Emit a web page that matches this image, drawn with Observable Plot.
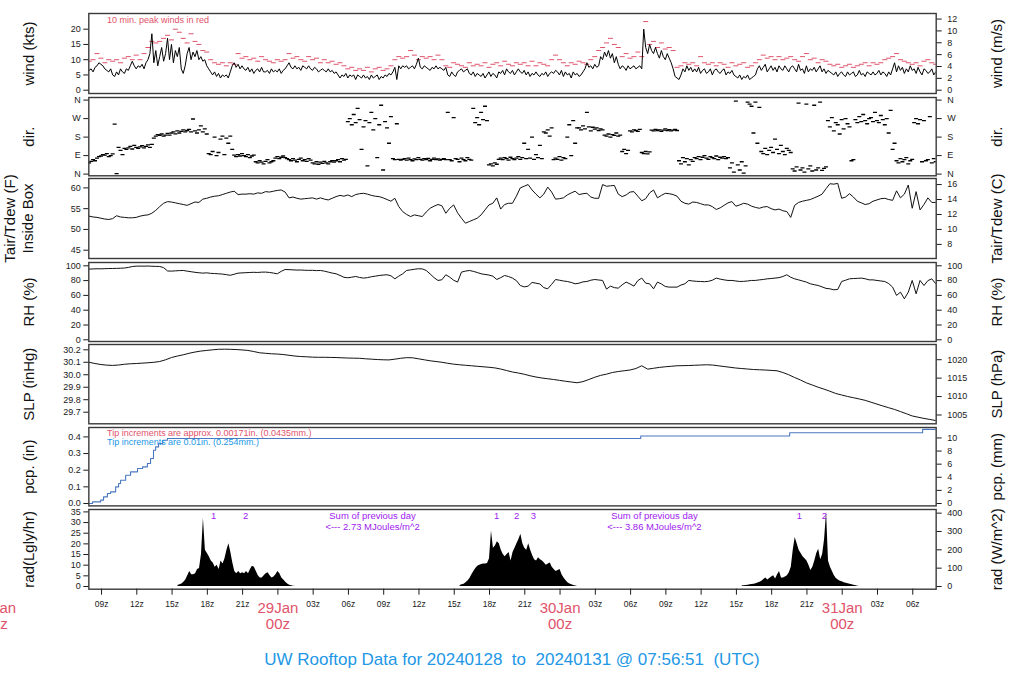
<!DOCTYPE html>
<html><head><meta charset="utf-8">
<script src="https://cdn.jsdelivr.net/npm/d3@7"></script>
<script src="https://cdn.jsdelivr.net/npm/@observablehq/plot@0.6"></script>
<style>
body{margin:0;background:#fff;font-family:"Liberation Sans",Arial,Helvetica,sans-serif;}
#wrap{position:relative;width:1024px;height:700px;overflow:hidden;background:#fff;}
#title{position:absolute;left:0;width:1024px;top:650px;text-align:center;color:#2297E6;font-size:17px;white-space:pre;}
</style></head><body>
<div id="wrap"><div id="title">UW Rooftop Data for 20240128  to  20240131 @ 07:56:51  (UTC)</div></div>
<script>
// ---------------- data (hours counted from 28 Jan 00z) ----------------
const START_HOUR = 7.95; // 28 Jan 07:57 UTC
// wind speed (kts), 10-min samples
const windKts = [
6.5,7,6,7.5,8,9,8.5,8,7,6.5, 6,7,5,4.5,6,5,7,6,5.5,7, 6.5,8,9.5,8,7,8,7.5,8.5,7,9,
10,12,18.5,9,13,8,11,14,9.5,12, 17,10,15,9,13,11,14,7,5.5,8, 12,14,10,12.5,11,13,10,11,9.5,10,
8,7,6,5,6,4.5,5.5,4,5,4.5, 5,4,6,8,9,7.5,8.5,7,8,7, 6.5,7.5,6,7,5.5,6.5,7,6,7.5,6,
6,6.5,5.5,7,6,6.5,6,7,5.5,6.5, 7,8,9,7.5,7,8,7,7.5,6.5,8, 7.5,7,8,7,6.5,7.5,7,6,6.5,7,
6.5,6,7,6,6.5,5.5,6,5,4,5, 4.5,5.5,4,5,4.5,5,3.5,5,4.5,4, 5,4,4.5,3.5,5,4,4.5,5,3.5,4.5,
4,5,4.5,5.5,5,6,7.5,3.5,8,7, 8,7.5,8,7,7.5,8,7,8.5,10.5,7.5, 7,8,7.5,7,6.5,7.5,7,8,7,7.5,
7,6.5,7.5,5,4.5,6,5,4.5,6,6.5, 7,6,6.5,7,5.5,5,6,4.5,5.5,5, 4.5,5.5,4,5,6,4.5,5.5,5,4,6,
5.5,6.5,5,7,6,5.5,6.5,5,6,7, 6,5.5,6.5,5,6,4.5,5.5,5,6,5, 4.5,5.5,5,6,4.5,5.5,6,5.5,6.5,6,
5,6.5,4.5,6,5,5.5,4,6,5,5.5, 4.5,5,6,7,9,7.5,8,7,8.5,7.5, 8,11,10,12.5,11,13,10.5,12,9,11,
8.5,7,8,7.5,6.5,8,7,7.5,8,7, 7.5,8,7,20,14,12,15,13,12,14, 12,10.5,13,11,10,12,10.5,9,7,4.5,
4,3.5,5,7,6,8,6.5,7.5,6,7, 6,7.5,5.5,6.5,7,5.5,6,7,5,6.5, 7,6,5.5,6.5,7,5,6,5.5,6.5,5,
4.5,4,5,3.5,4.5,4,5,3.5,4,4.5, 5,7,8,6.5,7.5,8.5,6,7,8,6.5, 7.5,6,8,7,6.5,8,7,6,7.5,8,
7,6,8.5,6.5,7,5.5,8,6,7,6.5, 7.5,6,7,8,6,7,5.5,6.5,6,5.5, 5,6,4.5,5.5,6,5,4.5,6,5,5.5,
6,4.5,5,6.5,5,5.5,4.5,6,5.5,5, 6,5,5.5,6.5,5,6,5.5,4.5,6,5, 7,9,6,8,6.5,7.5,5.5,7,6,8,
6.5,7,5.5,7.5,6,5,7,6.5,5.5,6,7,5,6];
// 10-min peak wind (kts), one every 20 min
const peakKts = [
9.5,10,12,10.5,9,10,9.5,10,9,10.5, 11,10,11.5,10,12,14,16,15.5,16,17, 18,16.5,20,19,17,15.5,18.5,16,15,13,
12.5,10,9,8.5,9,8,9,8.5,12,10.5, 11,10,10.5,9.5,11,10,9.5,9,10,9.5, 10,12,10.5,11,10,9.5,11,10,10.5,9,
10,9,9.5,8.5,9,8,7,7.5,6.5,7, 6.5,7.5,6,7,7.5,6.5,7,8,10,11, 10.5,11,13,11.5,10,11,10.5,11,10,11.5,
10,8,7.5,9,8.5,8,7.5,9,8,8.5, 8,9,7.5,8.5,9,8,9.5,8.5,8,9, 8.5,9,8,9.5,8,9,8.5,8,10,11.5,
10,9,8,9,8.5,9.5,9,8.5,10,11, 13,14,15.5,17,15,14,11,12,10.5,11, 12.5,11,22.5,15,16,14,15.5,13.5,14,13,
7.5,8,9,8.5,9,8,11,9,8.5,9, 8,9,8.5,7.5,9,8,8.5,9,7.5,8, 9,10,11.5,10.5,11,10,11,10,10.5,11,
10,9.5,11,12,10,10.5,9,10,9.5,8.5, 8,8.5,7.5,8,8.5,7.5,8,8.5,9,8, 9,8.5,9,10,10.5,11,12,10,9.5,9,
8.5,9,8,9.5,10,9,8.5];
// wind direction (deg), 10-min samples
const dirDeg = [
55,62,70,65,78,85, 88,95,92,100,85,90,98, 243,2, 130,115,95,125,120,
128,135,122,140,130,125,132,138,128,135,142,130,145, 175,185,192,188,195,185,190,
198,190,200,205,196,210,200,208,215,205,212, 218,205,268,210,200,215,235,205,220,195,
100,95,110,180,90,105,170,185,95,175,150,185,120, 92,85,95,88,100,90,85,95,80,88,92,
60,55,65,58,50,62,70,55,60,65, 78,85,75,82,88,80,75, 70,65,75,68,60,72,78,65,70,62,75,68,
55,50,60,48,58,52,62,55,50,60,65,58, 65,70,60,75,68,72, 255,270,240,290,250,320,265,120,
230,260,40,250,300,215,270,80,240,335,20,255,225,150,280, 75,70,245,72,68,
72,75,68,78,70,65,74,70,80,72,68,75,70,76,65,72,78,70,74,68,72,75,70,
300,70,65,275,75,72,60,78,70,65,80,72,68, 320,250,275,240,300,265,330,260, 45,50,40,55,48,
72,78,70,80,75,68,82,75,70,78,85,72,80, 150,75,120,78,180,72,95,80,140,75,205, 200,215,185,225,
70,78,72,85,68,80,75, 180,240,90,260,150,225, 225,215,235,220,300,230,210,228, 219,225,212,220,215,
190,185,195,180,192,188,200,185,190, 110,120,100,115, 210,205,215,212,208,218, 105,100,110,98,108,
214,210,218,212,215,208,214,220,212,216,210,214,218,212, 65,50,80,60,75,45,70,62,
80,75,85,70,82,90,78,72,85,80,75,88,70,82,78,85,75,80, 30,55,10,355,45,20,60,5,40,350,
340,330,200,350,150,325, 110,100,125,95,115,130,105,170,120,100,140,110,95,125,115,105,
25,15,35,345,20,30,10,340,25,40,15,335,20,30,350,18,28,35, 260,230,275,210,250,240,195,265,220,270,245,230,
65,70, 265,250,280,255,290,260,245,270,275,255,300,260,250,285,265,240,270, 200,310,120,150,
65,55,75,60,70,80,50,65,72, 250,270,245,265,60,260, 65,70,280,55,75,60];
// inside-box air temperature (F), 20-min samples
const tempF = [
53.2,53.0,52.9,52.7,52.5,52.4,52.6,53.3,53.0,52.9, 52.8,52.8,52.9,53.2,53.4,53.5,53.9,54.6,55.5,56.3,
56.7,56.6,56.4,56.2,56.0,55.8,56.2,56.6,56.5,57.3, 57.5,57.8,58.0,58.1,58.4,58.7,59.0,59.2,58.4,58.5,
58.5,58.6,58.5,58.8,58.7,59.1,59.0,59.2,59.4,59.5, 59.0,57.6,57.8,57.5,57.3,57.4,57.5,57.6,57.3,57.6,
57.3,57.1,57.5,57.9,58.2,58.0,58.3,57.9,58.4,58.6, 58.7,58.5,58.2,58.0,57.9,57.6,57.2,56.8,57.5,55.5,
54.3,53.6,53.1,53.5,53.3,53.1,54.2,55.1,55.6,56.0, 55.7,53.9,55.1,55.9,54.0,52.7,51.5,51.9,52.3,52.7,
53.5,54.7,55.9,56.3,57.6,54.9,56.0,56.3,56.3,
58.0,60.0,60.4,60.8,59.5,58.5,57.6,58.5,60.2,59.0,57.3,
57.4,57.6,58.3,58.8,59.2,58.4,58.6,58.7,57.8,57.5, 57.5,60.8,60.4,60.5,60.6,58.5,57.9,58.3,59.0,59.1,
58.0,56.9,57.4,58.8,59.5,57.6,58.2,58.7,58.6,58.4, 58.0,56.8,56.3,56.1,56.6,56.5,56.2,55.9,55.9,55.5,
54.8,55.2,55.8,56.4,56.7,55.6,55.9,56.3,56.1,55.6, 55.3,55.1,55.4,55.5,55.0,54.7,54.9,54.5,54.3,52.9,
55.8,56.5,56.8,57.0,57.2,57.6,58.0,58.5,59.8,61.0, 60.9,61.1,57.5,57.8,58.6,57.8,56.8,56.4,56.0,56.2,
56.8,57.1,57.4,57.5,57.2,57.0,59.3,57.6,58.5,60.7, 55.1,59.1,54.7,56.0,57.6,56.5,56.5];
// relative humidity (%), 20-min samples
const rhPct = [
95.5,95.8,96,95.9,96.1,96.3,96.4,96.5,96.7,97.0, 97.8,99.0,99.5,99.6,99.5,99.7,99.4,99.2,99.1,97.5,
93.0,92.8,93.2,93.5,93.7,92.8,92.0,91.2,90.6,90.1, 90.5,89.8,89.5,89.2,88.8,88.0,87.2,88.6,90.1,90.4,
90.7,91.0,91.2,91.0,91.4,91.5,91.0,90.2,89.2,92.5, 95.0,94.8,94.5,94.2,94.3,94.0,93.8,93.9,93.5,93.7,
92.8,91.5,90.2,89.2,87.0,84.5,83.8,84.6,85.6,84.2, 83.4,84.0,85.2,86.0,86.9,87.5,87.9,86.5,82.4,86.0,
89.2,93.7,94.5,95.3,96.0,95.8,93.7,89.0,84.0,80.2, 81.1,87.9,84.7,80.5,78.0,91.5,92.8,93.7,92.5,91.0,
89.2,88.3,87.5,86.0,81.5,84.0,86.9,85.5,83.4,
80,73.4,71.5,72.5,77.5,76.5,75.5,70.5,68.9,75,81.5,
80.5,79.5,78.8,77.5,75.7,76.5,78.3,78.8,80.5,81.5, 80.8,80.2,68.5,72.5,70.5,69.8,74.3,78.0,75.5,72.5,
80.0,83.4,76.5,75.7,68.9,78.0,75.5,72.0,71.2,71.2, 71.2,74.0,75.7,80.2,79.5,79.0,78.8,78.5,79.0,80.5,
83.4,82.0,81.0,80.2,80.2,79.5,78.8,79.0,79.5,80.2, 80.2,81.0,81.5,82.4,82.8,83.4,84.0,85.5,87.9,84.5,
82.4,81.0,79.5,78.0,75.7,74.5,73.4,71.5,69.5,68.9, 67.6,68.0,78.8,80.5,82.4,82.8,83.0,83.4,82.5,81.0,
81.0,80.2,79.5,78.8,76.0,71.2,60.0,64.4,55.4,64.4, 80.2,62.2,80.2,73.4,80.0,82.4,75.7];
// sea-level pressure (inHg), 30-min samples
const slpInHg = [
30.100,30.090,30.082,30.077,30.075,30.078,30.084,30.088,30.090,30.093,
30.096,30.100,30.106,30.120,30.138,30.150,30.160,30.172,30.182,30.190,
30.195,30.200,30.204,30.205,30.204,30.202,30.199,30.195,30.186,30.176,
30.172,30.168,30.166,30.162,30.156,30.150,30.146,30.144,30.141,30.140,
30.140,30.139,30.138,30.136,30.134,30.133,30.132,30.128,30.125,30.122,
30.120,30.119,30.125,30.132,30.137,30.136,30.128,30.120,30.112,30.106,
30.100,30.092,30.085,30.080,30.076,30.072,30.068,30.064,30.060,30.055,
30.046,30.034,30.022,30.014,30.004,29.992,29.982,29.974,29.968,29.962,
29.955,29.948,29.942,29.936,29.945,29.962,29.980,29.995,30.005,30.018,
30.026,30.032,30.038,30.050,30.072,30.045,30.052,30.059,30.064,30.068,
30.072,30.073,30.074,30.076,30.078,30.080,30.078,30.072,30.066,30.060,
30.054,30.050,30.046,30.042,30.040,30.038,30.035,30.032,30.018,30.000,
29.978,29.958,29.935,29.918,29.900,29.885,29.868,29.850,29.838,29.826,
29.816,29.806,29.795,29.780,29.765,29.750,29.736,29.722,29.705,29.688,
29.670,29.660,29.650,29.642,29.633];
// accumulated precipitation (in) at tip times (h)
const pcpHours  = [7.95,8.23,8.92,9.17,9.5,9.77,10.2,10.45,10.62,11.05,11.47,12.06,12.49,12.9,13.17,13.42,13.6,13.85,14.2,14.6,54.86,67.53,78.84,79.95];
const pcpInches = [0,0.01,0.02,0.04,0.06,0.07,0.10,0.12,0.14,0.17,0.19,0.21,0.22,0.24,0.27,0.32,0.34,0.36,0.38,0.39,0.405,0.425,0.445,0.445];
// solar radiation (Langley/hr), 10-min samples for each daylight period
const radStartHours = [15.5, 39.5, 63.5];
const radDay1 = [0.5,0.8,1.2,2,3,5,7,5.5,5.5,6, 8,8.5,15,32,17,15.5,14,12,11,9, 10,8,12,10.5,13,17,20,16,11,7,
6,7,6,6.5,6,7,6,8,9.5,9, 7,5,4,4,5,6,6.5,5,4,4.5, 5.5,7,6,4,3,2,1.2,0.6,0.3,0.1,0];
const radDay2 = [0.5,0.8,1,1.8,2.6,3.8,5.5,7,8.5,9.5, 10,10.3,10.5,10.5,10.8,13,26,18,19,21, 20,17,15,14,15,16,12,16,18,20,
22,24.5,20,18,17,20,17,14.5,12.5,12, 13.5,12.5,12,11,10,10.5,11,9,8,7, 7.5,8,5.5,4,2.8,1.8,1.2,0.8,0.5,0.2,0];
const radDay3 = [0.3,0.4,0.5,0.6,0.8,0.9,1.0,1.3,1.6,2, 2.5,3.3,4,3,3.8,4.5,5,3.5,5.5,7, 4,4,4.5,5,6.5,9,17,23,20,17,
15.5,14,13,12,10,7.5,9,12,15.5,17.5, 12.5,15,22,35,12,9,7,5,3.8,3, 2.5,2.2,1.8,1.5,1.3,1,0.8,0.6,0.3,0.1,0];
const radMarkHours  = [18.53, 21.25, 42.6, 44.3, 45.74, 68.36, 70.49];
const radMarkLabels = ["1","2","1","2","3","1","2"];
const radSumHours = [32.05, 56.03];
const radSumMJ    = ["2.73", "3.86"];
// axis ticks
const xTickHours = [9,12,15,18,21,24,27,30,33,36,39,42,45,48,51,54,57,60,63,66,69,72,75,78];
const dayHours  = [0, 24, 48, 72];
const dayLabels = ["28Jan", "29Jan", "30Jan", "31Jan"];
const windTicks = [0,5,10,15,20], windMsTicks = [0,2,4,6,8,10,12];
const dirTicks = [0,90,180,270,360], dirNames = ["N","E","S","W","N"];
const tempTicks = [45,50,55,60], tempCTicks = [8,10,12,14,16];
const rhTicks = [0,20,40,60,80,100];
const slpTicks = [29.7,29.8,29.9,30.0,30.1,30.2], slpHpaTicks = [1005,1010,1015,1020];
const pcpTicks = [0,0.1,0.2,0.3,0.4], pcpMmTicks = [0,2,4,6,8,10];
const radTicks = [0,5,10,15,20,25,30,35], radWTicks = [0,100,200,300,400];

// ---------------- build tables ----------------
const series = (arr, step) => arr.map((v, i) => ({h: START_HOUR + i * step, v}));
const wind = series(windKts, 1/6), peak = series(peakKts, 1/3), dir = series(dirDeg, 1/6);
const temp = series(tempF, 1/3), rh = series(rhPct, 1/3), slp = series(slpInHg, 1/2);
const pcp = pcpHours.map((h, i) => ({h, v: pcpInches[i]}));
const rad = [radDay1, radDay2, radDay3].flatMap((arr, d) => arr.map((v, i) => ({h: radStartHours[d] + i/6, v, day: d})));

// ---------------- layout ----------------
const W = 1024, ML = 88.3, MR = 1024 - 935.7, PAD = 4;
const FONT = '"Liberation Sans", Arial, Helvetica, sans-serif';
const RED = "#DF536B", BLUE = "#2297E6", PURPLE = "#A020F0";
const dash = w => ({draw(ctx) { ctx.moveTo(-w / 2, 0); ctx.lineTo(w / 2, 0); }});
const wrap = document.getElementById("wrap");

function panel(p) {
  const top = p.frame[0] - PAD;
  const mb = p.xaxis ? 60 : PAD;
  const height = p.frame[1] - top + mb;
  const marks = [
    ...p.marks,
    Plot.frame({stroke: "#3a3a3a", strokeWidth: 1.4}),
    Plot.axisY({anchor: "left", ticks: p.lt, tickFormat: p.lf, tickSize: 5, tickPadding: 3, fontSize: 9, label: null}),
    Plot.axisY({anchor: "right", ticks: p.rt, tickFormat: p.rf, tickSize: 5, tickPadding: 6, fontSize: 9, label: null}),
    Plot.text([p.ll], {text: d => d, frameAnchor: "left", dx: (p.llx ?? 28) - ML, rotate: -90, textAnchor: "middle", lineAnchor: "middle", fontSize: 15, lineHeight: 1.2, fill: "#111"}),
    Plot.text([p.rl], {text: d => d, frameAnchor: "right", dx: 997 - (W - MR), rotate: -90, textAnchor: "middle", lineAnchor: "middle", fontSize: 15, fill: "#111"})
  ];
  if (p.xaxis) {
    marks.push(
      Plot.axisX({anchor: "bottom", ticks: xTickHours, tickSize: 6, tickPadding: 6, fontSize: 8.5, label: null,
        tickFormat: h => h % 24 === 0 ? "" : String(h % 24).padStart(2, "0") + "z"}),
      Plot.text(dayHours, {x: d => d, text: (d, i) => dayLabels[i] + "\n00z", frameAnchor: "bottom", dy: 12,
        textAnchor: "middle", lineAnchor: "top", fill: RED, fontSize: 15, lineHeight: 1.1})
    );
  }
  const svg = Plot.plot({
    width: W, height, marginLeft: ML, marginRight: MR, marginTop: PAD, marginBottom: mb,
    x: {domain: [9, 78], range: [101, 912.3], axis: null},
    y: {domain: p.vals, range: p.px.map(v => v - top), axis: null},
    marks
  });
  Object.assign(svg.style, {position: "absolute", left: "0px", top: top + "px", background: "transparent",
    overflow: "visible", maxWidth: "none", fontFamily: FONT, color: "#1a1a1a"});
  wrap.appendChild(svg);
}

// wind
panel({frame: [13.3, 93.3], vals: [0, 20], px: [90, 29],
  lt: windTicks, lf: d => String(d), rt: windMsTicks.map(v => v * 1.943844), rf: d => String(Math.round(d / 1.943844)),
  ll: "wind (kts)", rl: "wind (m/s)",
  marks: [
    Plot.dot(peak, {x: "h", y: "v", symbol: dash(5), fill: "none", stroke: RED, strokeWidth: 1, clip: true}),
    Plot.line(wind, {x: "h", y: "v", stroke: "#000", strokeWidth: 1, clip: true}),
    Plot.text(["10 min. peak winds in red"], {text: d => d, frameAnchor: "top-left", dx: 18.2, dy: 6.7, lineAnchor: "middle", textAnchor: "start", fill: RED, fontSize: 9})
  ]});
// direction
panel({frame: [96.7, 175], vals: [0, 360], px: [173.3, 99.3],
  lt: dirTicks, lf: (d, i) => dirNames[i], rt: dirTicks, rf: (d, i) => dirNames[i],
  ll: "dir.", rl: "dir.",
  marks: [Plot.dot(dir, {x: "h", y: "v", symbol: dash(4), fill: "none", stroke: "#000", strokeWidth: 1.3, clip: true})]});
// temperature
panel({frame: [178.3, 258.3], vals: [45, 60], px: [250, 187.7],
  lt: tempTicks, lf: d => String(d), rt: tempCTicks.map(c => c * 1.8 + 32), rf: d => String(Math.round((d - 32) / 1.8)),
  ll: "Tair/Tdew (F)\nInside Box", llx: 17.6, rl: "Tair/Tdew (C)",
  marks: [Plot.line(temp, {x: "h", y: "v", stroke: "#111", strokeWidth: 1, clip: true})]});
// RH
panel({frame: [261.7, 340.7], vals: [0, 100], px: [339, 265],
  lt: rhTicks, lf: d => String(d), rt: rhTicks, rf: d => String(d),
  ll: "RH (%)", rl: "RH (%)",
  marks: [Plot.line(rh, {x: "h", y: "v", stroke: "#111", strokeWidth: 1, clip: true})]});
// SLP
panel({frame: [344, 423.3], vals: [29.7, 30.2], px: [411.7, 349.3],
  lt: slpTicks, lf: d3.format(".1f"), rt: slpHpaTicks.map(v => v * 0.0295300), rf: d => String(Math.round(d / 0.0295300)),
  ll: "SLP (inHg)", rl: "SLP (hPa)",
  marks: [Plot.line(slp, {x: "h", y: "v", stroke: "#111", strokeWidth: 1, clip: true})]});
// precipitation
panel({frame: [427.3, 505.7], vals: [0, 0.4], px: [503.3, 436.7],
  lt: pcpTicks, lf: d3.format(".1f"), rt: pcpMmTicks.map(v => v / 25.4), rf: d => String(Math.round(d * 25.4)),
  ll: "pcp. (in)", rl: "pcp. (mm)",
  marks: [
    Plot.line(pcp, {x: "h", y: "v", curve: "step-after", stroke: "#4a78c0", strokeWidth: 1.1, clip: true}),
    Plot.text(["Tip increments are approx. 0.00171in. (0.0435mm.)"], {text: d => d, frameAnchor: "top-left", dx: 18.2, dy: 5.5, lineAnchor: "middle", textAnchor: "start", fill: RED, fontSize: 9}),
    Plot.text(["Tip increments are 0.01in. (0.254mm.)"], {text: d => d, frameAnchor: "top-left", dx: 18.2, dy: 14.3, lineAnchor: "middle", textAnchor: "start", fill: BLUE, fontSize: 9})
  ]});
// radiation
panel({frame: [509.3, 589], vals: [0, 35], px: [586.3, 511.7], xaxis: true,
  lt: radTicks, lf: d => String(d), rt: radWTicks.map(v => v / 11.622), rf: d => String(Math.round(d * 11.622 / 100) * 100),
  ll: "rad(Lgly/hr)", rl: "rad (W/m^2)",
  marks: [
    Plot.areaY(rad, {x: "h", y: "v", z: "day", fill: "#000", clip: true}),
    Plot.text(radMarkHours, {x: d => d, text: (d, i) => radMarkLabels[i], frameAnchor: "top", dy: 6, lineAnchor: "middle", fill: PURPLE, fontSize: 9.5}),
    Plot.text(radSumHours, {x: d => d, text: () => "Sum of previous day", frameAnchor: "top", dy: 6, lineAnchor: "middle", fill: PURPLE, fontSize: 9.5}),
    Plot.text(radSumHours, {x: d => d, text: (d, i) => "<--- " + radSumMJ[i] + " MJoules/m^2", frameAnchor: "top", dy: 17, lineAnchor: "middle", fill: PURPLE, fontSize: 9.5})
  ]});
</script></body></html>
